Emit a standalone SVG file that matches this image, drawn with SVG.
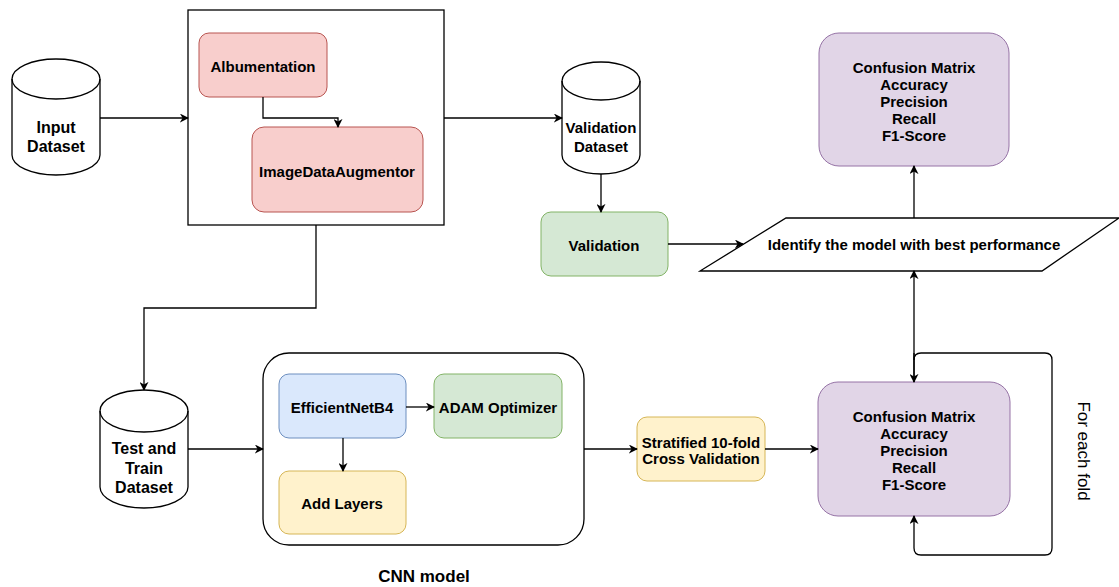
<svg xmlns="http://www.w3.org/2000/svg" width="1119" height="587" viewBox="0 0 1119 587">
<defs>
<style>
text{font-family:"Liberation Sans",Arial,sans-serif;font-size:15px;font-weight:bold;fill:#000;text-anchor:middle;dominant-baseline:central}
text.big{font-size:16px}
.ln{fill:none;stroke:#000;stroke-width:1.3}
.cyl{fill:#fff;stroke:#000;stroke-width:1.3}
.red{fill:#f8cecc;stroke:#b85450;stroke-width:1}
.grn{fill:#d5e8d4;stroke:#82b366;stroke-width:1}
.blu{fill:#dae8fc;stroke:#6c8ebf;stroke-width:1}
.yel{fill:#fff2cc;stroke:#d6b656;stroke-width:1}
.pur{fill:#e1d5e7;stroke:#9673a6;stroke-width:1}
</style>
<marker id="ah" viewBox="0 0 10 10" refX="9" refY="5" markerWidth="9" markerHeight="9" markerUnits="userSpaceOnUse" orient="auto">
<path d="M0,0 L10,5 L0,10 L3,5 z" fill="#000"/>
</marker>
</defs>

<g id="input-dataset">
<path class="cyl" d="M12,79 A44,20 0 0 1 100,79 V155 A44,20 0 0 1 12,155 Z"/>
<path class="ln" d="M12,79 A44,20 0 0 0 100,79"/>
<text class="big" x="56" y="127">Input</text>
<text class="big" x="56" y="146">Dataset</text>
</g>

<g id="augmentation-box">
<rect x="188" y="10" width="256" height="215" fill="#fff" stroke="#000" stroke-width="1.3"/>
</g>
<g id="albumentation">
<rect class="red" x="199" y="33" width="128" height="64" rx="10"/>
<text x="263" y="66">Albumentation</text>
</g>
<g id="imagedataaugmentor">
<rect class="red" x="252" y="127" width="171" height="85" rx="12"/>
<text x="337" y="171">ImageDataAugmentor</text>
</g>

<g id="validation-dataset">
<path class="cyl" d="M562,81 A39,19 0 0 1 640,81 V155 A39,19 0 0 1 562,155 Z"/>
<path class="ln" d="M562,81 A39,19 0 0 0 640,81"/>
<text x="601" y="127">Validation</text>
<text x="601" y="146">Dataset</text>
</g>

<g id="validation">
<rect class="grn" x="541" y="212" width="127" height="64" rx="10"/>
<text x="604" y="245">Validation</text>
</g>

<g id="identify">
<polygon points="786,218 1119,218 1042,271 700,271" fill="#fff" stroke="#000" stroke-width="1.3"/>
<text x="914" y="244">Identify the model with best performance</text>
</g>

<g id="metrics-top">
<rect class="pur" x="819" y="33" width="190" height="133" rx="20"/>
<text x="914" y="67">Confusion Matrix</text>
<text x="914" y="84">Accuracy</text>
<text x="914" y="101">Precision</text>
<text x="914" y="118">Recall</text>
<text x="914" y="135">F1-Score</text>
</g>

<g id="test-train-dataset">
<path class="cyl" d="M100,411 A44,21 0 0 1 188,411 V487 A44,21 0 0 1 100,487 Z"/>
<path class="ln" d="M100,411 A44,21 0 0 0 188,411"/>
<text class="big" x="144" y="448">Test and</text>
<text class="big" x="144" y="468">Train</text>
<text class="big" x="144" y="487">Dataset</text>
</g>

<g id="cnn-model">
<rect x="263" y="353" width="321" height="192" rx="26" fill="#fff" stroke="#000" stroke-width="1.3"/>
<text x="424" y="576" style="font-size:17px">CNN model</text>
</g>
<g id="efficientnetb4">
<rect class="blu" x="279" y="374" width="127" height="64" rx="10"/>
<text x="342" y="407">EfficientNetB4</text>
</g>
<g id="adam">
<rect class="grn" x="434" y="374" width="128" height="64" rx="10"/>
<text x="498" y="407">ADAM Optimizer</text>
</g>
<g id="add-layers">
<rect class="yel" x="279" y="471" width="127" height="63" rx="10"/>
<text x="342" y="503">Add Layers</text>
</g>

<g id="stratified">
<rect class="yel" x="637" y="417" width="128" height="64" rx="10"/>
<text x="701" y="442">Stratified 10-fold</text>
<text x="701" y="458">Cross Validation</text>
</g>

<g id="metrics-fold">
<rect class="pur" x="818" y="382" width="192" height="134" rx="20"/>
<text x="914" y="416">Confusion Matrix</text>
<text x="914" y="433">Accuracy</text>
<text x="914" y="450">Precision</text>
<text x="914" y="467">Recall</text>
<text x="914" y="484">F1-Score</text>
</g>

<g id="for-each-fold-label">
<text x="1083" y="451" transform="rotate(90 1083 451)" style="font-weight:normal;font-size:17px">For each fold</text>
</g>

<g id="connectors">
<path class="ln" d="M100,118 H188" marker-end="url(#ah)"/>
<path class="ln" d="M263,97 V118 H338 V127" marker-end="url(#ah)"/>
<path class="ln" d="M444,118 H562" marker-end="url(#ah)"/>
<path class="ln" d="M601,174 V212" marker-end="url(#ah)"/>
<path class="ln" d="M668,244 H743" marker-end="url(#ah)"/>
<path class="ln" d="M914,218 V166" marker-end="url(#ah)"/>
<path class="ln" d="M316,225 V308 H144 V390" marker-end="url(#ah)"/>
<path class="ln" d="M188,449 H263" marker-end="url(#ah)"/>
<path class="ln" d="M406,407 H434" marker-end="url(#ah)"/>
<path class="ln" d="M343,438 V471" marker-end="url(#ah)"/>
<path class="ln" d="M584,449 H637" marker-end="url(#ah)"/>
<path class="ln" d="M765,449 H818" marker-end="url(#ah)"/>
<path class="ln" d="M914,382 V271" marker-end="url(#ah)"/>
<path class="ln" d="M914,353 V382" marker-end="url(#ah)"/>
<path class="ln" d="M914,360 Q914,353 921,353 H1045 Q1052,353 1052,360 V548 Q1052,555 1045,555 H921 Q914,555 914,548 V516" marker-end="url(#ah)"/>
</g>
</svg>
